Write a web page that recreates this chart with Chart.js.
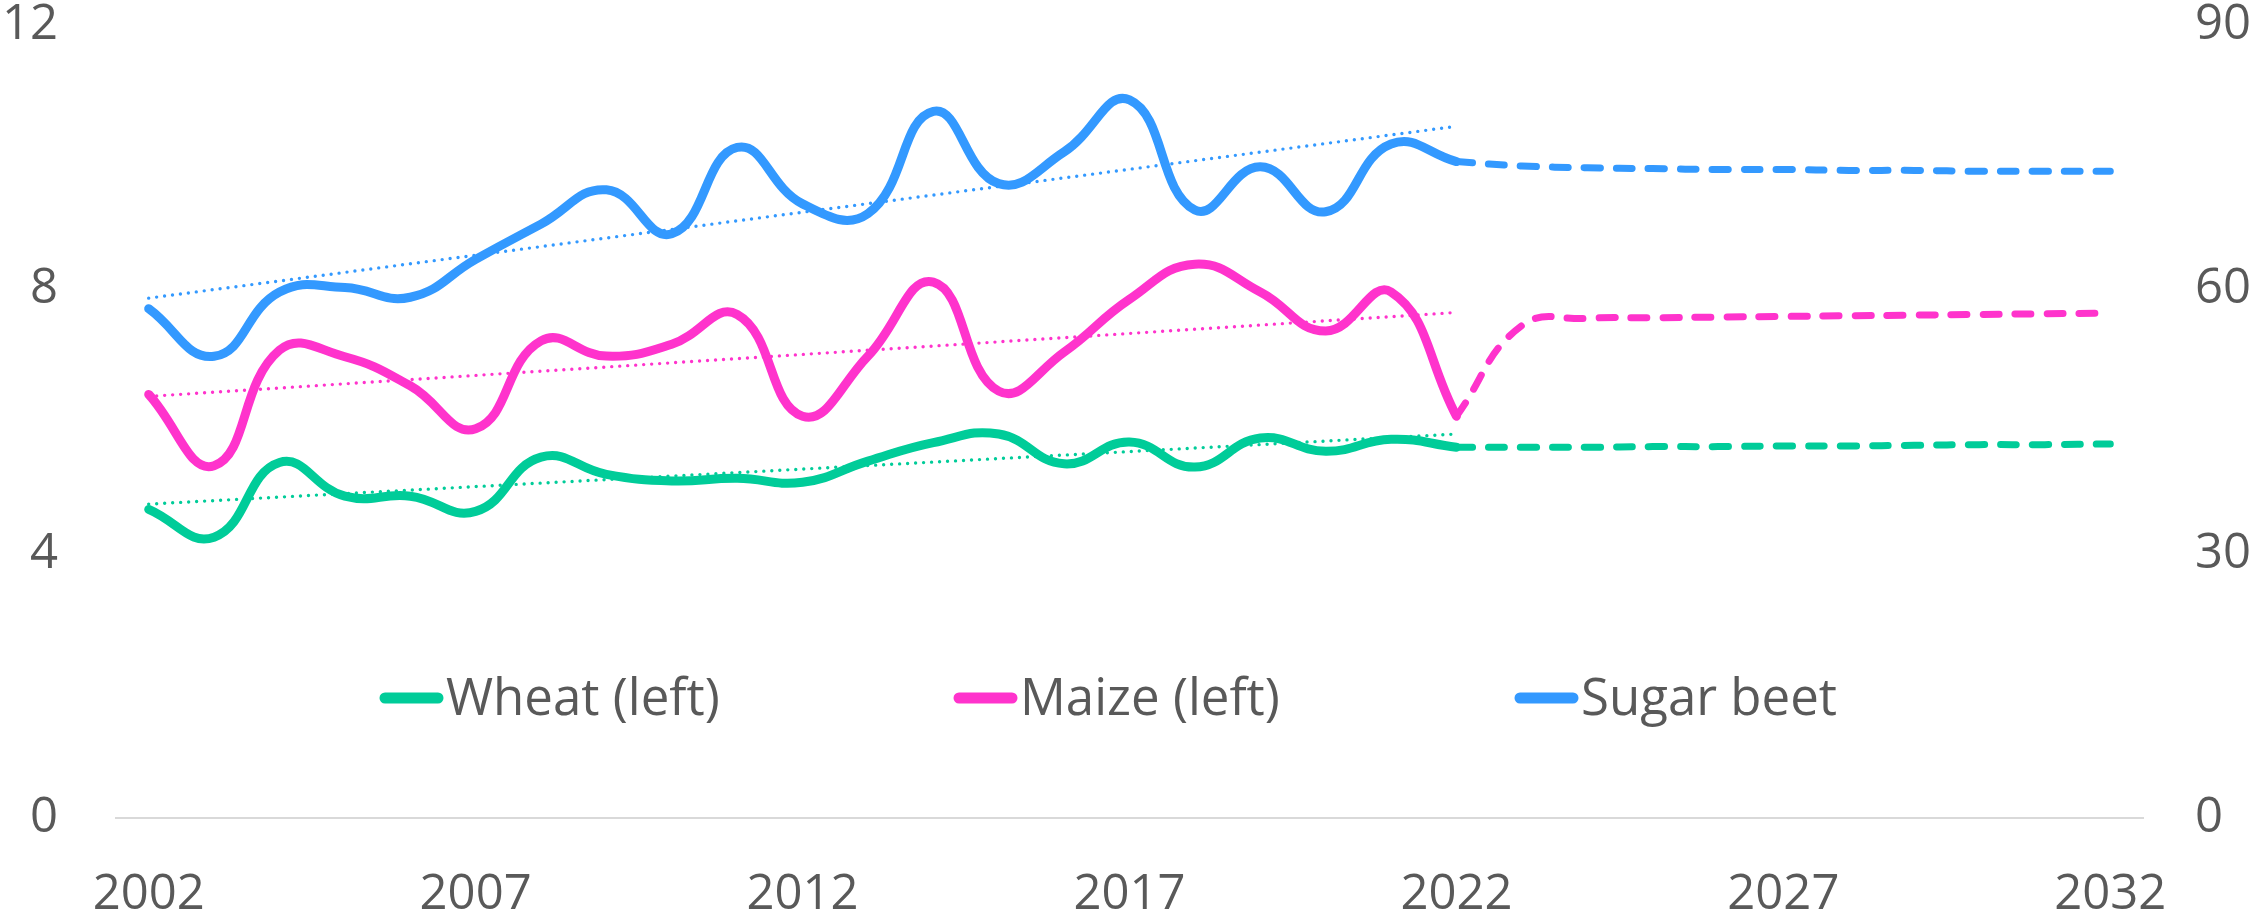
<!DOCTYPE html>
<html>
<head>
<meta charset="utf-8">
<title>Crop yields</title>
<script src="https://cdn.jsdelivr.net/npm/chart.js@4/dist/chart.umd.min.js"></script>
<style>
    html, body { margin: 0; padding: 0; background: #ffffff; }
    canvas { display: block; }
</style>
</head>
<body>
<canvas id="yieldChart" width="2256" height="923"></canvas>
<script>
'use strict';

// Categories
const years = [
    '2002', '2003', '2004', '2005', '2006', '2007', '2008', '2009', '2010', '2011',
    '2012', '2013', '2014', '2015', '2016', '2017', '2018', '2019', '2020', '2021',
    '2022', '2023', '2024', '2025', '2026', '2027', '2028', '2029', '2030', '2031',
    '2032'
];

// History 2002-2022 (wheat, maize on left axis; sugar beet on right axis)
const wheat = [4.67, 4.25, 5.38, 4.87, 4.87, 4.64, 5.46, 5.20, 5.10, 5.14,
    5.08, 5.40, 5.68, 5.81, 5.36, 5.69, 5.31, 5.75, 5.55, 5.73, 5.61];
const maize = [6.41, 5.33, 7.08, 6.98, 6.54, 5.89, 7.22, 6.99, 7.17, 7.62,
    6.08, 6.99, 8.11, 6.46, 7.05, 7.85, 8.38, 7.96, 7.37, 7.96, 6.08];
const sugarBeet = [57.8, 52.4, 59.7, 60.2, 59.1, 63.4, 67.4, 71.3, 66.3, 76.1,
    69.7, 68.6, 80.2, 72.0, 75.6, 81.5, 69.0, 73.9, 68.8, 76.5, 74.5];

// Outlook 2022-2032
const wheatOutlook = [5.61, 5.61, 5.61, 5.62, 5.62, 5.63, 5.63, 5.64, 5.65, 5.65, 5.66];
const maizeOutlook = [6.08, 7.45, 7.56, 7.57, 7.58, 7.59, 7.60, 7.61, 7.62, 7.63, 7.64];
const sugarBeetOutlook = [74.5, 74.0, 73.8, 73.7, 73.6, 73.6, 73.5, 73.5, 73.4, 73.4, 73.4];

// Linear trend, first and last value (2002, 2022)
const wheatTrend = [4.75, 5.81];
const maizeTrend = [6.38, 7.65];
const sugarBeetTrend = [59.0, 78.5];

// Tick labels
const leftTicks = [0, 4, 8, 12];
const rightTicks = [0, 30, 60, 90];

const GREEN = '#00CC99';
const PINK = '#FF33CC';
const BLUE = '#3399FF';
const TEXT = '#595959';
const FONT = "'Open Sans', 'Noto Sans', sans-serif";

// Pad a series with nulls so it sits on the right years
function history(values) {
    return values.concat(new Array(years.length - values.length).fill(null));
}

function outlook(values) {
    return new Array(years.length - values.length).fill(null).concat(values);
}

function trend(ends) {
    let data = new Array(years.length).fill(null);
    data[0] = ends[0];
    data[wheat.length - 1] = ends[1];
    return data;
}

function solid(label, data, color, axis) {
    return {
        label: label,
        data: history(data),
        yAxisID: axis,
        borderColor: color,
        borderWidth: 9,
        borderCapStyle: 'round',
        borderJoinStyle: 'round',
        tension: 0.45,
        pointRadius: 0
    };
}

function dashed(data, color, axis) {
    return {
        label: '',
        data: outlook(data),
        yAxisID: axis,
        borderColor: color,
        borderWidth: 7,
        borderDash: [16, 16],
        borderCapStyle: 'round',
        tension: 0.45,
        pointRadius: 0
    };
}

function dotted(data, color, axis) {
    return {
        label: '',
        data: trend(data),
        yAxisID: axis,
        borderColor: color,
        borderWidth: 3.4,
        borderDash: [0, 8],
        borderCapStyle: 'round',
        spanGaps: true,
        tension: 0,
        pointRadius: 0
    };
}

// Legend drawn inside the plot area, like the original
const legendItems = [
    { text: 'Wheat (left)', color: GREEN, x: 380 },
    { text: 'Maize (left)', color: PINK, x: 954 },
    { text: 'Sugar beet', color: BLUE, x: 1515 }
];

const innerLegend = {
    id: 'innerLegend',
    afterDraw: function (chart) {
        let ctx = chart.ctx;
        let y = 698;
        ctx.save();
        ctx.font = '51px ' + FONT;
        ctx.textBaseline = 'middle';
        ctx.fillStyle = TEXT;
        legendItems.forEach(function (item) {
            ctx.beginPath();
            ctx.lineWidth = 11;
            ctx.lineCap = 'round';
            ctx.strokeStyle = item.color;
            ctx.moveTo(item.x + 5, y);
            ctx.lineTo(item.x + 58, y);
            ctx.stroke();
            ctx.fillText(item.text, item.x + 66, y + 2);
        });
        ctx.restore();
    }
};

let tickFont = { family: FONT, size: 49, lineHeight: 1 };

// Fixed axis box, no extra room for the end labels
function fixWidth(width) {
    return function (scale) {
        scale.width = width;
        scale.paddingTop = 0;
        scale.paddingBottom = 0;
    };
}

new Chart(document.getElementById('yieldChart'), {
    type: 'line',
    data: {
        labels: years,
        datasets: [
            solid('Wheat (left)', wheat, GREEN, 'y'),
            solid('Maize (left)', maize, PINK, 'y'),
            solid('Sugar beet', sugarBeet, BLUE, 'y1'),
            dashed(wheatOutlook, GREEN, 'y'),
            dashed(maizeOutlook, PINK, 'y'),
            dashed(sugarBeetOutlook, BLUE, 'y1'),
            dotted(wheatTrend, GREEN, 'y'),
            dotted(maizeTrend, PINK, 'y'),
            dotted(sugarBeetTrend, BLUE, 'y1')
        ]
    },
    options: {
        responsive: false,
        animation: false,
        layout: {
            padding: { top: 25, left: 0, right: 0, bottom: 0 }
        },
        plugins: {
            legend: { display: false },
            tooltip: { enabled: false }
        },
        scales: {
            x: {
                offset: true,
                grid: { display: false, drawTicks: false },
                border: { display: true, color: '#D9D9D9', width: 2 },
                ticks: {
                    autoSkip: false,
                    maxRotation: 0,
                    padding: 53,
                    color: TEXT,
                    font: tickFont,
                    callback: function (value, index) {
                        return index % 5 === 0 ? years[index] : '';
                    }
                },
                afterFit: function (scale) {
                    scale.height = 105;
                    scale.paddingLeft = 0;
                    scale.paddingRight = 0;
                }
            },
            y: {
                position: 'left',
                min: leftTicks[0],
                max: leftTicks[leftTicks.length - 1],
                grid: { display: false, drawTicks: false },
                border: { display: false },
                afterBuildTicks: function (scale) {
                    scale.ticks = leftTicks.map(v => ({ value: v }));
                },
                ticks: {
                    padding: 58,
                    color: TEXT,
                    font: tickFont
                },
                afterFit: fixWidth(116)
            },
            y1: {
                position: 'right',
                min: rightTicks[0],
                max: rightTicks[rightTicks.length - 1],
                grid: { display: false, drawTicks: false },
                border: { display: false },
                afterBuildTicks: function (scale) {
                    scale.ticks = rightTicks.map(v => ({ value: v }));
                },
                ticks: {
                    padding: 52,
                    color: TEXT,
                    font: tickFont
                },
                afterFit: fixWidth(113)
            }
        }
    },
    plugins: [innerLegend]
});
</script>
</body>
</html>
